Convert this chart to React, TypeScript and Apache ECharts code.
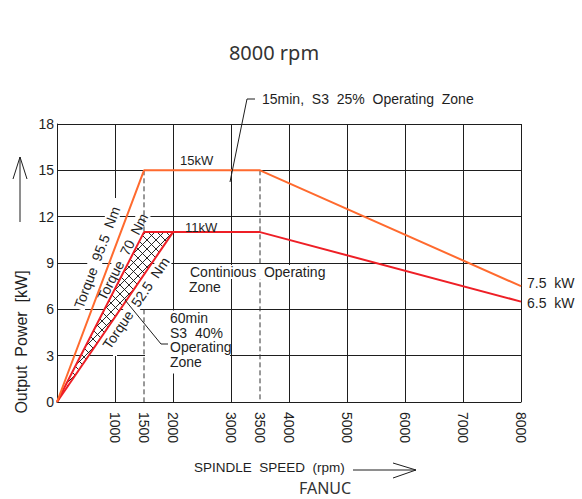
import React, { useEffect, useRef } from "react";
import * as echarts from "echarts";

// ---- data ----
const xTickValues = [1000, 1500, 2000, 3000, 3500, 4000, 5000, 6000, 7000, 8000];
const yMax = 18;
const yInterval = 3;

// 15 kW (S3 25%) curve
const rpm15 = [0, 1500, 3500, 8000];
const kw15 = [0, 15, 15, 7.5];
// 11 kW continuous curve (torque 70 Nm up to 1500)
const rpm11 = [0, 1500, 3500, 8000];
const kw11 = [0, 11, 11, 6.5];
// torque 52.5 Nm line
const rpm52 = [0, 2000];
const kw52 = [0, 11];
// hatched S3 40% zone
const hatchRpm = [0, 1500, 2000];
const hatchKw = [0, 11, 11];
// dashed guide segments
const dashedRpm = [1500, 1500, 3500];
const dashedFrom = [15, 6, 15];
const dashedTo = [11, 0, 0];

const ORANGE = "#ff6a2e";
const RED = "#ee1f26";
const INK = "#1e1e1e";
const FONT = "Liberation Sans";

function clipLine(p0: number[], d: number[], poly: number[][]) {
  const ts: number[] = [];
  const cross = (a: number[], b: number[]) => a[0] * b[1] - a[1] * b[0];
  for (let i = 0; i < poly.length; i++) {
    const P = poly[i];
    const Q = poly[(i + 1) % poly.length];
    const e = [Q[0] - P[0], Q[1] - P[1]];
    const den = cross(d, e);
    if (Math.abs(den) < 1e-9) continue;
    const w = [P[0] - p0[0], P[1] - p0[1]];
    const t = cross(w, e) / den;
    const s = cross(w, d) / den;
    if (s >= -1e-9 && s <= 1 + 1e-9) ts.push(t);
  }
  if (ts.length < 2) return null;
  const a = Math.min(...ts);
  const b = Math.max(...ts);
  if (b - a < 0.5) return null;
  return [p0[0] + a * d[0], p0[1] + a * d[1], p0[0] + b * d[0], p0[1] + b * d[1]];
}

function hatchRender(params: any, api: any) {
  const pts = hatchRpm.map((r, i) => api.coord([r, hatchKw[i]]));
  const children: any[] = [
    { type: "polygon", shape: { points: pts }, style: { fill: "#fff", stroke: "none" } },
  ];
  const step = 9;
  const fams = [
    { f: (p: number[]) => p[0] + p[1], d: [1, -1] },
    { f: (p: number[]) => p[0] - p[1], d: [1, 1] },
  ];
  for (const fam of fams) {
    const vals = pts.map(fam.f);
    const c0 = vals[0];
    const lo = Math.min(...vals);
    const hi = Math.max(...vals);
    const kStart = Math.ceil((lo - c0) / step);
    const kEnd = Math.floor((hi - c0) / step);
    for (let k = kStart; k <= kEnd; k++) {
      const c = c0 + k * step;
      const seg = clipLine([c, 0], fam.d, pts);
      if (!seg) continue;
      children.push({
        type: "line",
        shape: { x1: seg[0], y1: seg[1], x2: seg[2], y2: seg[3] },
        style: { stroke: "#111", lineWidth: 0.9 },
      });
    }
  }
  return { type: "group", children };
}

const txt = (
  text: string,
  x: number,
  y: number,
  extra: any = {},
  el: any = {}
) => ({
  type: "text",
  x,
  y,
  z: 5,
  ...el,
  style: {
    text,
    fontSize: 14,
    lineHeight: 14,
    fontFamily: FONT,
    fill: INK,
    align: "left",
    verticalAlign: "middle",
    ...extra,
  },
});

const rotLabel = (text: string, x: number, y: number, deg: number) =>
  txt(
    text,
    x,
    y,
    { align: "center", backgroundColor: "#fff", padding: [0, 1] },
    { rotation: (deg * Math.PI) / 180, z: 1 }
  );

const line = (points: number[][]) => ({
  type: "polyline",
  z: 5,
  shape: { points },
  style: { stroke: INK, lineWidth: 1, fill: "none" },
});

const mask = (x: number, y: number, width: number, height: number) => ({
  type: "rect",
  z: 1,
  shape: { x, y, width, height },
  style: { fill: "#fff" },
});

export default function App() {
  const ref = useRef<HTMLDivElement>(null);
  useEffect(() => {
    if (!ref.current) return;
    const chart = echarts.init(ref.current, null, { renderer: "svg" });
    const pair = (xs: number[], ys: number[]) => xs.map((x, i) => [x, ys[i]]);
    const lineSeries = (data: number[][], color: string, extra: any = {}) => ({
      type: "line",
      data,
      symbol: "none",
      silent: true,
      lineStyle: { color, width: 2 },
      ...extra,
    });
    const dashed = dashedRpm.map((r, i) =>
      lineSeries(
        [
          [r, dashedFrom[i]],
          [r, dashedTo[i]],
        ],
        "#333",
        { lineStyle: { color: "#333", width: 1, type: [5, 3] } }
      )
    );
    const option: any = {
      animation: false,
      grid: {
        left: 57,
        right: 61,
        top: 124,
        bottom: 97,
        containLabel: false,
        outerBoundsMode: "none",
      },
      xAxis: {
        type: "value",
        min: 0,
        max: 8000,
        interval: 1000,
        axisLine: { show: true, lineStyle: { color: INK, width: 1 } },
        axisTick: { show: false },
        axisLabel: {
          customValues: xTickValues,
          formatter: (v: number) => String(v),
          rotate: -90,
          margin: 10,
          fontSize: 14,
          fontFamily: FONT,
          color: INK,
        },
        splitLine: { show: true, lineStyle: { color: INK, width: 1 } },
      },
      yAxis: {
        type: "value",
        min: 0,
        max: yMax,
        interval: yInterval,
        axisLine: { show: true, lineStyle: { color: INK, width: 1 } },
        axisTick: { show: false },
        axisLabel: { margin: 3, fontSize: 14, fontFamily: FONT, color: INK },
        splitLine: { show: true, lineStyle: { color: INK, width: 1 } },
      },
      series: [
        ...dashed,
        {
          type: "custom",
          coordinateSystem: "cartesian2d",
          renderItem: hatchRender,
          data: [[0, 0]],
          silent: true,
        },
        lineSeries(pair(rpm52, kw52), RED),
        lineSeries(pair(rpm11, kw11), RED),
        lineSeries(pair(rpm15, kw15), ORANGE),
      ],
      graphic: [
        txt("8000 rpm", 274, 52, {
          align: "center",
          fontSize: 20,
          lineHeight: 22,
          fontFamily: "Noto Sans",
          fill: "#333",
        }),
        txt("15min,  S3  25%  Operating  Zone", 262, 99),
        line([[255, 99], [247, 99], [230, 182]]),
        txt("15kW", 180, 160, { fontSize: 13 }),
        txt("11kW", 185, 227, { fontSize: 13 }),
        mask(113, 198, 4, 158),
        mask(145, 310.5, 85, 63),
        txt("Continious  Operating", 189, 272, { backgroundColor: "#fff", padding: [0, 1] }, { z: 10 }),
        txt("Zone", 189, 286.5),
        txt("60min", 170, 318),
        txt("S3  40%", 170, 332.7),
        txt("Operating", 170, 347.4),
        txt("Zone", 170, 362.1),
        line([[168, 344], [161, 344], [125, 300]]),
        rotLabel("Torque  95.5  Nm", 97, 257.5, 69.5),
        rotLabel("Torque  70  Nm", 122.5, 257, 63),
        rotLabel("Torque  52.5  Nm", 136, 303, 55.8),
        txt("7.5  kW", 527, 283),
        txt("6.5  kW", 527, 303),
        txt("Output  Power  [kW]", 21, 342, { align: "center", fontSize: 16, lineHeight: 16 }, { rotation: Math.PI / 2 }),
        line([[20, 222], [20, 157]]),
        line([[13, 179], [20, 157], [27, 179]]),
        txt("SPINDLE  SPEED  (rpm)", 194, 467, { fontSize: 13.5 }),
        line([[353, 470], [416, 470]]),
        line([[393, 463], [416, 470], [393, 478]]),
        txt("FANUC", 299, 488, { fontSize: 16, lineHeight: 16, fontFamily: "Noto Sans", fill: "#333" }),
      ],
    };
    chart.setOption(option);
    return () => chart.dispose();
  }, []);
  return (
    <div
      ref={ref}
      style={{ position: "absolute", left: 0, top: 0, width: 582, height: 499 }}
    />
  );
}
